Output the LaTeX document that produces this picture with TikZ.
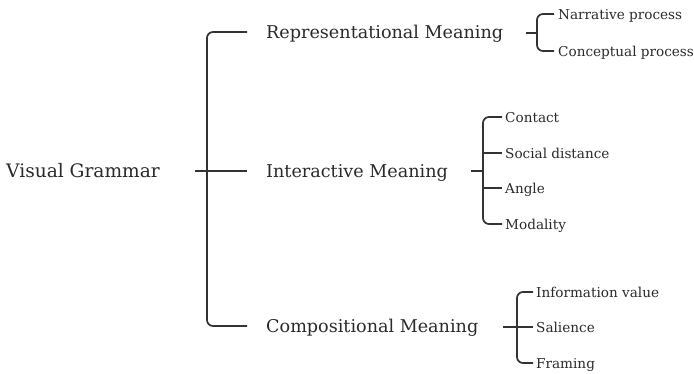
\documentclass[tikz,border=0pt]{standalone}
\usepackage{fontspec}
\setmainfont{DejaVu Serif}
\begin{document}
\begin{tikzpicture}[x=1pt,y=-1pt,
  main/.style={anchor=west,inner sep=0pt,text height=13pt,text depth=0pt,font=\fontsize{17.6}{19}\selectfont,text=ink},
  leaf/.style={anchor=west,inner sep=0pt,text height=10pt,text depth=0pt,font=\fontsize{13.6}{15}\selectfont,text=ink},
  br/.style={draw=line,line width=1.7pt,rounded corners=6pt}]
\definecolor{ink}{HTML}{2A2A2A}
\definecolor{line}{HTML}{333333}
\useasboundingbox (0,0) rectangle (694,373);
% level 0 and 1
\node[main,font=\fontsize{18.6}{20}\selectfont] (vg) at (6,171) {Visual Grammar};
\node[main] (rep) at (266,32) {Representational Meaning};
\node[main] (int) at (266,171) {Interactive Meaning};
\node[main] (com) at (266,326) {Compositional Meaning};
% leaves
\node[leaf] (n1) at (558,14) {Narrative process};
\node[leaf] (n2) at (558,51) {Conceptual process};
\node[leaf] (i1) at (505,117) {Contact};
\node[leaf] (i2) at (505,153) {Social distance};
\node[leaf] (i3) at (505,188) {Angle};
\node[leaf] (i4) at (505,224) {Modality};
\node[leaf] (c1) at (536,292) {Information value};
\node[leaf] (c2) at (536,327) {Salience};
\node[leaf] (c3) at (536,363) {Framing};
% trunk
\coordinate (tk) at (207,171);
\draw[br] ([xshift=-19pt]rep.west) -| (tk) |- ([xshift=-19pt]com.west);
\draw[br] (195,171) -- ([xshift=-19pt]int.west);
% representational brace
\coordinate (rv) at (537,33);
\draw[br] ([xshift=-4pt]n1.west) -| (rv) |- ([xshift=-4pt]n2.west);
\draw[br] (526,33) -- (rv);
% interactive brace
\coordinate (iv) at (483,171);
\draw[br] ([xshift=-3pt]i1.west) -| (iv) |- ([xshift=-3pt]i4.west);
\draw[br] (471,171) -- (iv);
\draw[br] (iv |- i2.west) -- ([xshift=-3pt]i2.west);
\draw[br] (iv |- i3.west) -- ([xshift=-3pt]i3.west);
% compositional brace
\coordinate (cv) at (517,327);
\draw[br] ([xshift=-3pt]c1.west) -| (cv) |- ([xshift=-3pt]c3.west);
\draw[br] (503,327) -- ([xshift=-3pt]c2.west);
\end{tikzpicture}
\end{document}
